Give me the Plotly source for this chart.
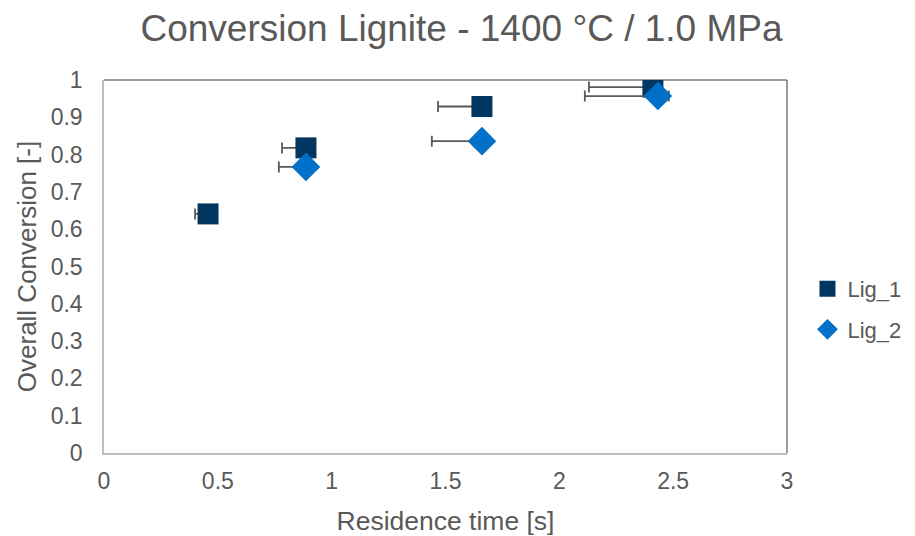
import plotly.graph_objects as go

# Data
lig1_x = [0.457, 0.887, 1.660, 2.411]
lig1_y = [0.641, 0.818, 0.929, 0.981]
lig1_err_minus = [0.057, 0.105, 0.193, 0.281]
lig1_err_plus = [0.03, 0.03, 0.03, 0.03]

lig2_x = [0.887, 1.660, 2.433]
lig2_y = [0.767, 0.836, 0.957]
lig2_err_minus = [0.119, 0.220, 0.321]
lig2_err_plus = [0.02, 0.035, 0.048]

x_ticks = [0, 0.5, 1, 1.5, 2, 2.5, 3]
y_ticks = [0, 0.1, 0.2, 0.3, 0.4, 0.5, 0.6, 0.7, 0.8, 0.9, 1]

FONT = "Liberation Sans, Arial, sans-serif"
TXT = "#595959"
ERR = "#595959"

fig = go.Figure()
fig.add_trace(go.Scatter(
    x=lig1_x, y=lig1_y, mode="markers", name="Lig_1", legendgroup="a",
    marker=dict(symbol="square", size=21, color="#003660"),
    error_x=dict(type="data", symmetric=False, array=lig1_err_plus,
                 arrayminus=lig1_err_minus, color=ERR, thickness=1.8, width=5.5),
))
fig.add_trace(go.Scatter(
    x=lig2_x, y=lig2_y, mode="markers", name="Lig_2", legendgroup="b",
    marker=dict(symbol="diamond", size=22, color="#0070C8"),
    error_x=dict(type="data", symmetric=False, array=lig2_err_plus,
                 arrayminus=lig2_err_minus, color=ERR, thickness=1.8, width=5.5),
))

fig.update_layout(
    width=907, height=528,
    margin=dict(l=96, r=128, t=72, b=83, autoexpand=False),
    paper_bgcolor="white", plot_bgcolor="white",
    font=dict(family=FONT, color=TXT),
    title=dict(text="Conversion Lignite - 1400 °C / 1.0 MPa",
               font=dict(size=37, color=TXT, family=FONT),
               x=0.5, xanchor="center", y=0.962, yanchor="middle", yref="container"),
    legend=dict(x=1.030, xanchor="left", y=0.385, yanchor="middle",
                font=dict(size=22, color=TXT), itemwidth=30,
                tracegroupgap=9, traceorder="grouped",
                bgcolor="rgba(0,0,0,0)"),
    showlegend=True,
    xaxis=dict(range=[0, 3], tickvals=x_ticks, ticktext=[f"{v:g}" for v in x_ticks],
               showgrid=False, zeroline=False, showline=True, linecolor="#BFBFBF",
               linewidth=1.5, ticks="", tickfont=dict(size=23, color=TXT),
               ticklabelstandoff=7, automargin=False,
               title=dict(text="Residence time [s]", font=dict(size=26.5, color=TXT), standoff=18)),
    yaxis=dict(range=[0, 1], tickvals=y_ticks, ticktext=[f"{v:g}" for v in y_ticks],
               showgrid=False, zeroline=False, showline=True, linecolor="#BFBFBF",
               linewidth=1.5, ticks="", tickfont=dict(size=23, color=TXT),
               ticklabelstandoff=15, automargin=False,
               title=dict(text="Overall Conversion [-]", font=dict(size=26, color=TXT), standoff=7)),
    shapes=[
        dict(type="line", xref="paper", yref="paper", x0=0, x1=1, y0=1, y1=1,
             line=dict(color="#7A7A7A", width=1.5), layer="below"),
        dict(type="line", xref="paper", yref="paper", x0=1, x1=1, y0=0, y1=1,
             line=dict(color="#7A7A7A", width=1.5), layer="below"),
    ],
)

fig.write_html("out.html")
